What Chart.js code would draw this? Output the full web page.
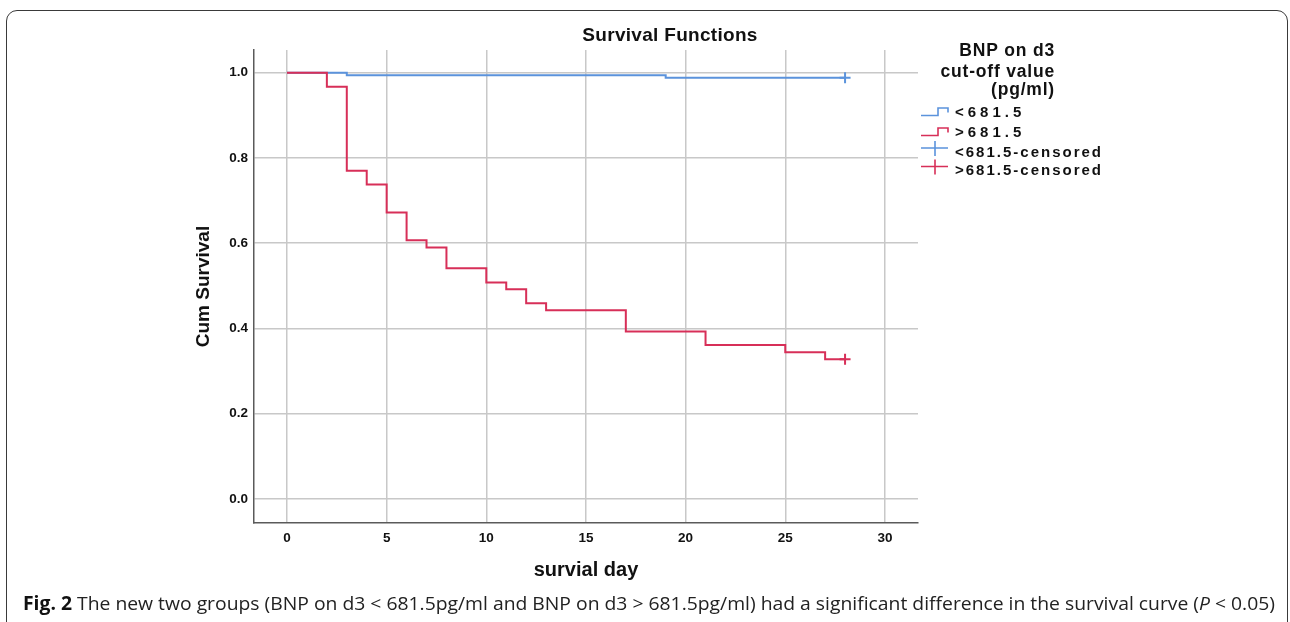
<!DOCTYPE html>
<html>
<head>
<meta charset="utf-8">
<script src="https://cdn.jsdelivr.net/npm/chart.js@4.4.1/dist/chart.umd.min.js"></script>
<style>
  html, body { margin: 0; padding: 0; background: #fff; width: 1290px; height: 622px; overflow: hidden; }
  #frame { position: absolute; left: 6px; top: 10px; width: 1282px; height: 700px; border: 1.5px solid #3a3a3a; border-radius: 11px; box-sizing: border-box; }
  #chart { position: absolute; left: 0; top: 0; }
  #caption { position: absolute; left: 23px; top: 591px; white-space: nowrap; font-family: 'Open Sans', sans-serif; font-size: 19px; line-height: 24px; color: #222; transform-origin: 0 0; }
  #caption b { color: #111; }
</style>
</head>
<body>
<div id="frame"></div>
<canvas id="chart" width="1290" height="622"></canvas>
<div id="caption"><b>Fig. 2</b> The new two groups (BNP on d3 &lt; 681.5pg/ml and BNP on d3 &gt; 681.5pg/ml) had a significant difference in the survival curve (<i>P</i> &lt; 0.05)</div>
<script>
// survival steps
var redDays  = [0, 2, 3, 4, 5, 6, 7, 8, 10, 11, 12, 13, 17, 21, 25, 27, 28];
var redSurv  = [1.0, 0.967, 0.770, 0.738, 0.672, 0.607, 0.590, 0.541, 0.508, 0.492, 0.459, 0.443, 0.393, 0.361, 0.344, 0.328, 0.328];
var blueDays = [0, 3, 19, 28];
var blueSurv = [1.0, 0.994, 0.988, 0.988];

var blueCensorDays = [28];
var blueCensorSurv = [0.988];
var redCensorDays  = [28];
var redCensorSurv  = [0.328];

var xTicks = [0, 5, 10, 15, 20, 25, 30];
var yTicks = [0.0, 0.2, 0.4, 0.6, 0.8, 1.0];

var chartTitle   = 'Survival Functions';
var legendTitle  = ['BNP on d3', 'cut-off value', '(pg/ml)'];
var legendLabels = ['<681.5', '>681.5', '<681.5-censored', '>681.5-censored'];
var xTitle = 'survial day';
var yTitle = 'Cum Survival';

var BLUE = '#5b93dc';
var RED  = '#d72f58';
var FONT = '"Liberation Sans", Arial, sans-serif';

function pts(xs, ys) {
  return xs.map(function(x, i) { return { x: x, y: ys[i] }; });
}

// title + legend drawn by hand (SPSS style step / cross icons)
var kmLegend = {
  id: 'kmLegend',
  afterDraw: function(chart) {
    var ctx = chart.ctx;
    ctx.save();
    ctx.fillStyle = '#111';
    ctx.font = 'bold 19px ' + FONT;
    ctx.textAlign = 'center';
    ctx.textBaseline = 'middle';
    ctx.letterSpacing = '0.3px';
    ctx.fillText(chartTitle, 670, 36);

    ctx.font = 'bold 17.5px ' + FONT;
    ctx.letterSpacing = '0.8px';
    ctx.textAlign = 'right';
    ctx.textBaseline = 'alphabetic';
    var tb = [56, 77, 95];
    legendTitle.forEach(function(t, i) { ctx.fillText(t, 1055, tb[i]); });

    var cols = [BLUE, RED, BLUE, RED];
    var rows = [112.5, 132.5, 152.5, 171];
    ctx.font = 'bold 15px ' + FONT;
    ctx.textAlign = 'left';
    ctx.textBaseline = 'middle';
    ctx.lineWidth = 1.6;
    legendLabels.forEach(function(t, i) {
      var y = rows[i];
      ctx.strokeStyle = cols[i];
      ctx.beginPath();
      if (i < 2) {
        ctx.moveTo(921, y + 3);
        ctx.lineTo(938, y + 3);
        ctx.lineTo(938, y - 4.5);
        ctx.lineTo(948, y - 4.5);
        ctx.lineTo(948, y);
      } else {
        var cy = y - 4.5;
        ctx.moveTo(921, cy);
        ctx.lineTo(948, cy);
        ctx.moveTo(935, cy - 7);
        ctx.lineTo(935, cy + 8);
      }
      ctx.stroke();
      ctx.fillStyle = '#111';
      ctx.letterSpacing = i < 2 ? '4px' : '2px';
      ctx.fillText(t, 955, y);
    });
    ctx.restore();
  }
};

var ctx = document.getElementById('chart').getContext('2d');
var chart = new Chart(ctx, {
  type: 'line',
  data: {
    datasets: [
      {
        label: legendLabels[1],
        data: pts(redDays, redSurv),
        borderColor: RED,
        borderWidth: 2,
        stepped: true,
        pointRadius: 0,
        fill: false,
        order: 1
      },
      {
        label: legendLabels[0],
        data: pts(blueDays, blueSurv),
        borderColor: BLUE,
        borderWidth: 2,
        stepped: true,
        pointRadius: 0,
        fill: false,
        order: 2
      },
      {
        label: legendLabels[2],
        data: pts(blueCensorDays, blueCensorSurv),
        showLine: false,
        pointStyle: 'cross',
        pointRadius: 5.5,
        pointBorderWidth: 2,
        borderColor: BLUE,
        order: 0
      },
      {
        label: legendLabels[3],
        data: pts(redCensorDays, redCensorSurv),
        showLine: false,
        pointStyle: 'cross',
        pointRadius: 5.5,
        pointBorderWidth: 2,
        borderColor: RED,
        order: 0
      }
    ]
  },
  options: {
    responsive: false,
    animation: false,
    layout: { padding: { left: 192, right: 372, top: 50, bottom: 40 } },
    plugins: {
      legend: { display: false },
      title: { display: false },
      tooltip: { enabled: false }
    },
    scales: {
      x: {
        type: 'linear',
        min: -1.656,
        max: 31.66,
        afterBuildTicks: function(s) { s.ticks = xTicks.map(function(v) { return { value: v }; }); },
        afterFit: function(s) { s.height = 59; },
        grid: { color: '#c8c8c8', lineWidth: 1.5, drawTicks: false },
        border: { display: true, color: '#5a5a5a', width: 1.5 },
        ticks: {
          padding: 7,
          color: '#111',
          font: { family: FONT, size: 13.5, weight: 'bold' },
          maxRotation: 0
        },
        title: {
          display: true,
          text: xTitle,
          color: '#111',
          padding: 0,
          font: { family: FONT, size: 20, weight: 'bold', lineHeight: 1.2 }
        }
      },
      y: {
        type: 'linear',
        min: -0.0565,
        max: 1.0534,
        afterBuildTicks: function(s) { s.ticks = yTicks.map(function(v) { return { value: v }; }); },
        afterFit: function(s) { s.width = 62; },
        grid: { color: '#c8c8c8', lineWidth: 1.5, drawTicks: false },
        border: { display: true, color: '#5a5a5a', width: 1.5 },
        ticks: {
          padding: 6,
          color: '#111',
          font: { family: FONT, size: 13.5, weight: 'bold' },
          callback: function(v) { return Number(v).toFixed(1); }
        },
        title: {
          display: true,
          text: yTitle,
          color: '#111',
          padding: 0,
          font: { family: FONT, size: 19, weight: 'bold', lineHeight: 1.2 }
        }
      }
    }
  },
  plugins: [kmLegend]
});

// stretch caption to the width it has in the figure
var cap = document.getElementById('caption');
var w = cap.getBoundingClientRect().width;
cap.style.transform = 'scaleX(' + (1252 / w) + ')';
</script>
</body>
</html>
